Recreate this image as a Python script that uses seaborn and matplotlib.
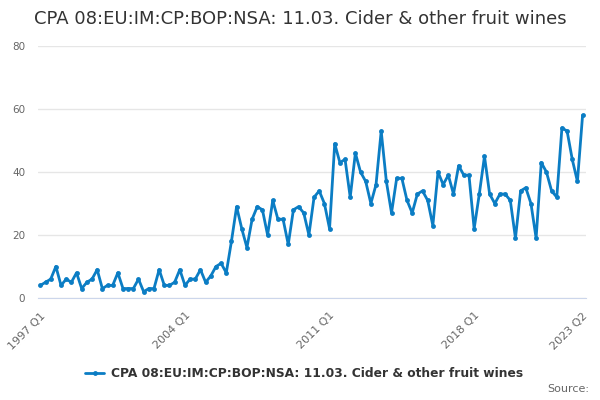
import pandas as pd
import matplotlib
matplotlib.use('Agg')
import matplotlib.pyplot as plt
import seaborn as sns

# Datos trimestrales, 1997 Q1 - 2023 Q2
valores = [4, 5, 6, 10, 4, 6, 5, 8, 3, 5, 6, 9, 3, 4, 4, 8, 3, 3, 3, 6,
           2, 3, 3, 9, 4, 4, 5, 9, 4, 6, 6, 9, 5, 7, 10, 11, 8, 18, 29, 22,
           16, 25, 29, 28, 20, 31, 25, 25, 17, 28, 29, 27, 20, 32, 34, 30, 22, 49, 43, 44,
           32, 46, 40, 37, 30, 36, 53, 37, 27, 38, 38, 31, 27, 33, 34, 31, 23, 40, 36, 39,
           33, 42, 39, 39, 22, 33, 45, 33, 30, 33, 33, 31, 19, 34, 35, 30, 19, 43, 40, 34,
           32, 54, 53, 44, 37, 58]
trimestres = [f'{1997 + i // 4} Q{i % 4 + 1}' for i in range(len(valores))]
etiquetas_x = ['1997 Q1', '2004 Q1', '2011 Q1', '2018 Q1', '2023 Q2']
y_ticks = [0, 20, 40, 60, 80]
serie = 'CPA 08:EU:IM:CP:BOP:NSA: 11.03. Cider & other fruit wines'

data = pd.DataFrame({'pos': range(len(valores)), 'valor': valores, 'trimestre': trimestres})

sns.set_style('white')
plt.rcParams['font.family'] = ['DejaVu Sans']

fig = plt.figure(figsize=(6, 4), dpi=100)
ax = fig.add_axes([0.063, 0.255, 0.914, 0.63])

sns.lineplot(x='pos', y='valor', data=data, ax=ax, color='#0b7dc4', linewidth=2,
             marker='o', markersize=3.5, markeredgewidth=0, label=serie)

ax.set_ylim(0, 80)
ax.set_xlim(-0.5, 105.7)
ax.set_yticks(y_ticks)
ax.set_yticklabels([str(v) for v in y_ticks], fontsize=7.5, color='#666666')
ax.yaxis.grid(True, color='#e6e6e6', linewidth=1)
ax.set_axisbelow(True)

ticks = list(range(0, len(valores), 7))
ax.set_xticks(ticks)
ax.set_xticklabels([trimestres[t] if trimestres[t] in etiquetas_x else '' for t in ticks],
                   rotation=45, ha='right', rotation_mode='anchor', fontsize=8, color='#666666')
ax.tick_params(axis='x', length=7, color='#ccd6eb', width=1, pad=2)
ax.tick_params(axis='y', length=0, pad=9)

for lado in ['top', 'right', 'left']:
    ax.spines[lado].set_visible(False)
ax.spines['bottom'].set_color('#ccd6eb')
ax.set_xlabel('')
ax.set_ylabel('')

fig.suptitle(serie, x=0.5, y=0.975, fontsize=13, color='#333333')
leg = ax.legend(loc='upper center', bbox_to_anchor=(0.5 - 0.015, -0.23), frameon=False,
                fontsize=8.8, handlelength=1.6, handletextpad=0.5)
for t in leg.get_texts():
    t.set_fontweight('bold')
    t.set_color('#333333')
fig.text(0.982, 0.015, 'Source:', ha='right', va='bottom', fontsize=8, color='#666666')

plt.savefig('out.png', dpi=100)
